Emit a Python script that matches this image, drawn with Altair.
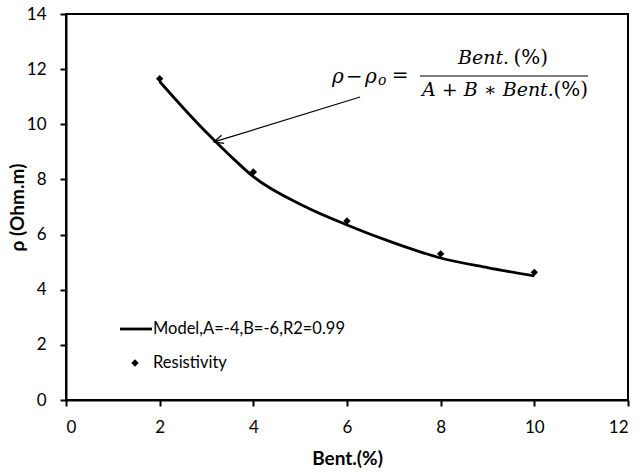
import altair as alt
import pandas as pd

# Measured data (Resistivity vs bentonite content)
bent = [2, 4, 6, 8, 10]
resistivity = [11.65, 8.27, 6.49, 5.30, 4.63]

# Model curve
model_x = [2, 2.5, 3, 3.5, 4, 5, 6, 7, 8, 9, 10]
model_y = [11.55, 10.6, 9.7, 8.87, 8.1, 7.1, 6.35, 5.7, 5.15, 4.8, 4.5]

# Annotation arrow (data units): start of shaft, tip, and the two head ends
arrow_x = [6.28, 3.16]
arrow_y = [10.99, 9.36]
head_x = [3.376, 3.16, 3.321]
head_y = [9.307, 9.36, 9.601]

legend_labels = ["Model,A=-4,B=-6,R2=0.99", "Resistivity"]

FONT = "Lato"
SERIF = "DejaVu Serif"

pts = pd.DataFrame({"bent": bent, "rho": resistivity})
model = pd.DataFrame({"bent": model_x, "rho": model_y})
arrow = pd.DataFrame({"bent": arrow_x, "rho": arrow_y})
head = pd.DataFrame({"bent": head_x, "rho": head_y, "o": list(range(len(head_x)))})

xs = alt.Scale(domain=[0, 12], nice=False, zero=False)
ys = alt.Scale(domain=[0, 14], nice=False, zero=False)

xax = alt.Axis(values=[0, 2, 4, 6, 8, 10, 12], title="Bent.(%)", titleFontWeight="bold",
               titleFontSize=19, titleFont=FONT, titleY=58, titleBaseline="middle",
               labelFontSize=17, labelFont=FONT, labelPadding=13, tickSize=6,
               tickWidth=2, tickColor="black", domainColor="black", domainWidth=2,
               grid=False, labelColor="black", titleColor="black")
yax = alt.Axis(values=[0, 2, 4, 6, 8, 10, 12, 14], title="ρ (Ohm.m)", titleFontWeight="bold",
               titleFontSize=19, titleFont=FONT, titleX=-49, titleY=193, titleBaseline="middle",
               titleAngle=270,
               labelFontSize=17, labelFont=FONT, labelPadding=14, tickSize=6,
               tickWidth=2, tickColor="black", domainColor="black", domainWidth=2,
               grid=False, labelColor="black", titleColor="black")

line = alt.Chart(model).mark_line(color="black", strokeWidth=2.8, interpolate="monotone").encode(
    x=alt.X("bent:Q", scale=xs, axis=xax),
    y=alt.Y("rho:Q", scale=ys, axis=yax),
)
points = alt.Chart(pts).mark_point(shape="diamond", filled=True, color="black", size=55, opacity=1).encode(
    x=alt.X("bent:Q", scale=xs), y=alt.Y("rho:Q", scale=ys)
)
shaft = alt.Chart(arrow).mark_line(color="black", strokeWidth=1.2).encode(
    x=alt.X("bent:Q", scale=xs), y=alt.Y("rho:Q", scale=ys)
)
arrowhead = alt.Chart(head).mark_line(color="black", strokeWidth=1.2).encode(
    x=alt.X("bent:Q", scale=xs), y=alt.Y("rho:Q", scale=ys), order="o:Q"
)

base = alt.Chart(pd.DataFrame({"a": [0]}))


def txt(s, x, y, size=19, italic=True, align="left"):
    kw = dict(font=SERIF, fontSize=size, align=align, baseline="middle", color="black")
    if italic:
        kw["fontStyle"] = "italic"
    return base.mark_text(**kw).encode(x=alt.value(x), y=alt.value(y), text=alt.value(s))


# Equation annotation (pixel positions inside the plot area)
eq = [
    txt("ρ", 266, 63, size=20),
    txt("−", 288, 63, size=20, italic=False, align="center"),
    txt("ρ", 299, 63, size=20),
    txt("o", 312, 67, size=14),
    txt("=", 334, 62, size=20, italic=False, align="center"),
    txt("Bent.", 392, 44),
    txt("(%)", 482, 44, size=20, italic=False, align="right"),
    txt("A + B ∗ Bent.", 356, 76),
    txt("(%)", 522, 76, size=20, italic=False, align="right"),
    base.mark_rule(color="black", strokeWidth=1.2).encode(
        x=alt.value(354), x2=alt.value(522), y=alt.value(62)),
]

# Legend (manual)
leg_line = base.mark_rule(color="black", strokeWidth=2.8).encode(
    x=alt.value(54), x2=alt.value(86), y=alt.value(315))
leg_t1 = base.mark_text(font=FONT, fontSize=16.5, align="left", baseline="middle", color="black").encode(
    x=alt.value(87), y=alt.value(315), text=alt.value(legend_labels[0]))
leg_pt = base.mark_point(shape="diamond", filled=True, color="black", size=55, opacity=1).encode(
    x=alt.value(69), y=alt.value(349))
leg_t2 = base.mark_text(font=FONT, fontSize=16.5, align="left", baseline="middle", color="black").encode(
    x=alt.value(87), y=alt.value(349), text=alt.value(legend_labels[1]))

chart = alt.layer(
    line, points, shaft, arrowhead, *eq,
    leg_line, leg_t1, leg_pt, leg_t2,
).properties(
    width=562, height=386,
    autosize=alt.AutoSizeParams(type="none"),
    padding={"left": 66, "top": 14, "right": 12, "bottom": 73},
    background="white",
).configure_view(stroke="black", strokeWidth=2)

chart.save("out.html", embed_options={"renderer": "svg", "actions": False})
